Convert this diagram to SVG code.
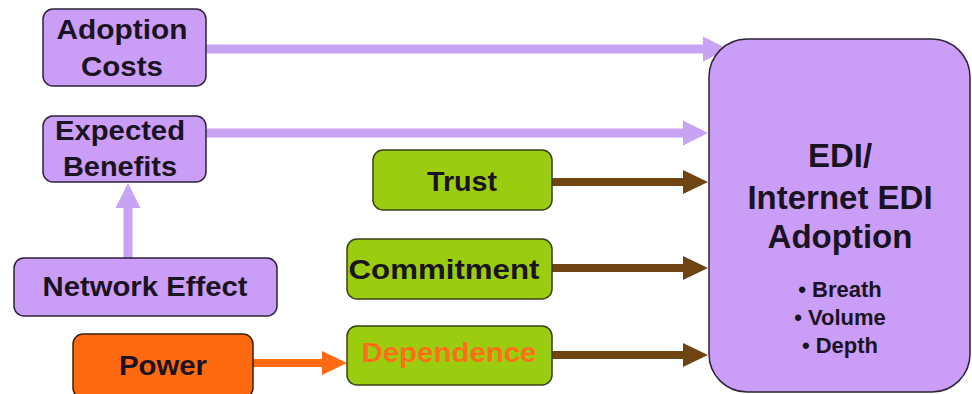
<svg xmlns="http://www.w3.org/2000/svg" width="972" height="394" viewBox="0 0 972 394">
  <style>
    text { font-family: "Liberation Sans", Arial, sans-serif; font-weight: bold; fill: #1b1322; text-anchor: middle; }
    .lbl { font-size: 27px; }
    .big { font-size: 33px; }
    .sub { font-size: 22px; }
    .purple { fill: #ca9ef7; stroke: #2e2238; stroke-width: 1.5; }
    .green { fill: #9acd10; stroke: #3a3f14; stroke-width: 1.5; }
    .orange { fill: #ff6a10; stroke: #3a2010; stroke-width: 1.5; }
    .a-purple { fill: #c8a2f3; }
    .a-brown { fill: #6e4512; }
    .a-orange { fill: #ff6a13; }
    .dep { fill: #ff6f1a; }
  </style>

  <rect width="972" height="394" fill="#ffffff"/>

  <!-- connectors -->
  <g id="connectors">
    <path class="a-purple" d="M206,44.5 L703,44.5 L703,36.5 L728,49 L703,61.5 L703,53.5 L206,53.5 Z"/>
    <path class="a-purple" d="M206,128.5 L683,128.5 L683,120.5 L708,133 L683,145.5 L683,137.5 L206,137.5 Z"/>
    <path class="a-purple" d="M123.5,258 L123.5,208 L115.5,208 L128,183 L140.5,208 L132.5,208 L132.5,258 Z"/>
    <path class="a-brown" d="M552,178 L683,178 L683,170 L708,182 L683,194 L683,186 L552,186 Z"/>
    <path class="a-brown" d="M552,264 L683,264 L683,256 L708,268 L683,280 L683,272 L552,272 Z"/>
    <path class="a-brown" d="M552,351 L683,351 L683,343 L708,355 L683,367 L683,359 L552,359 Z"/>
    <path class="a-orange" d="M253,359 L322,359 L322,351 L347,363 L322,375 L322,367 L253,367 Z"/>
  </g>

  <!-- nodes -->
  <g id="adoption-costs">
    <rect class="purple" x="43" y="9" width="163" height="77" rx="10"/>
    <text class="lbl" x="122" y="39" textLength="131" lengthAdjust="spacingAndGlyphs">Adoption</text>
    <text class="lbl" x="122" y="76" textLength="82" lengthAdjust="spacingAndGlyphs">Costs</text>
  </g>

  <g id="expected-benefits">
    <rect class="purple" x="43" y="116" width="163" height="66" rx="10"/>
    <text class="lbl" x="120" y="140" textLength="130" lengthAdjust="spacingAndGlyphs">Expected</text>
    <text class="lbl" x="120" y="176" textLength="114" lengthAdjust="spacingAndGlyphs">Benefits</text>
  </g>

  <g id="network-effect">
    <rect class="purple" x="14" y="258" width="263" height="58" rx="10"/>
    <text class="lbl" x="145" y="296" textLength="205" lengthAdjust="spacingAndGlyphs">Network Effect</text>
  </g>

  <g id="power">
    <rect class="orange" x="73" y="334" width="180" height="64" rx="10"/>
    <text class="lbl" x="163" y="375" textLength="88" lengthAdjust="spacingAndGlyphs">Power</text>
  </g>

  <g id="trust">
    <rect class="green" x="373" y="150" width="179" height="60" rx="10"/>
    <text class="lbl" x="462" y="191" textLength="70" lengthAdjust="spacingAndGlyphs">Trust</text>
  </g>

  <g id="commitment">
    <rect class="green" x="347" y="239" width="205" height="60" rx="10"/>
    <text class="lbl" x="444" y="279" textLength="191" lengthAdjust="spacingAndGlyphs">Commitment</text>
  </g>

  <g id="dependence">
    <rect class="green" x="347" y="326" width="205" height="59" rx="10"/>
    <text class="lbl dep" x="449" y="362" textLength="175" lengthAdjust="spacingAndGlyphs">Dependence</text>
  </g>

  <g id="edi-adoption">
    <rect class="purple" x="709" y="39" width="261" height="353" rx="38"/>
    <text class="big" x="840" y="167">EDI/</text>
    <text class="big" x="840" y="209">Internet EDI</text>
    <text class="big" x="840" y="248">Adoption</text>
    <text class="sub" x="840" y="297">• Breath</text>
    <text class="sub" x="840" y="325">• Volume</text>
    <text class="sub" x="840" y="353">•  Depth</text>
  </g>
</svg>
